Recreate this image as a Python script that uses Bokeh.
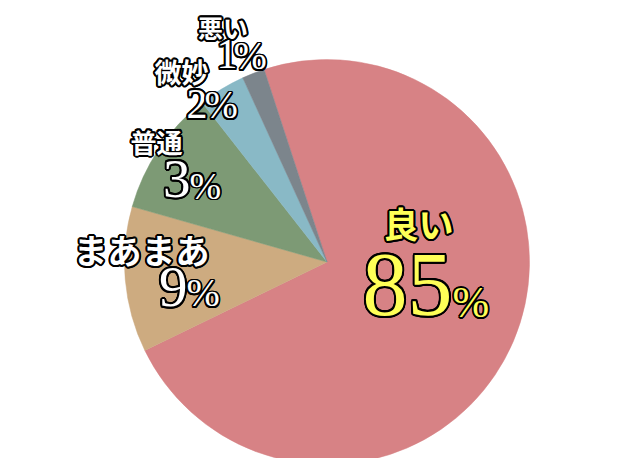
import numpy as np
from bokeh.plotting import figure
from bokeh.models import ColumnDataSource, Range1d
from bokeh.core.properties import value
from bokeh.embed import file_html
from bokeh.resources import INLINE

# ---- data ----
categories = ["良い", "まあまあ", "普通", "微妙", "悪い"]
shares = [72.8, 11.6, 10.0, 3.75, 1.8]          # visual slice sizes (percent of circle)
pct_labels = ["85", "9", "3", "2", "1"]          # printed percentages
colors = ["#d78285", "#cdab80", "#7d9a75", "#89b9c6", "#7c858c"]

# ---- layout ----
W, H = 624, 458
def X(px):
    return px + 8
def Y(py):
    return 466 - py

cx, cy, r = X(326.5), Y(261.5), 202.5
start = np.deg2rad(108.1)

p = figure(width=W, height=H, output_backend="svg", toolbar_location=None,
           x_range=Range1d(8, 632), y_range=Range1d(8, 466), min_border=0)
p.axis.visible = False
p.grid.visible = False
p.outline_line_color = None
p.background_fill_color = "white"

frac = np.array(shares) / np.sum(shares)
cum = np.cumsum(frac)
prev = np.concatenate([[0], cum[:-1]])
src = ColumnDataSource(dict(
    x=[cx] * len(shares), y=[cy] * len(shares),
    a0=start - cum * 2 * np.pi, a1=start - prev * 2 * np.pi,
    color=colors))
p.wedge(x="x", y="y", radius=r, start_angle="a0", end_angle="a1",
        fill_color="color", line_color="color", line_width=0.5, source=src)

yellow = "#ffff57"
fills = [yellow, "white", "white", "white", "white"]

# label placement (page px); numbers: (right edge, baseline)
cjk_xy = [(418, 222), (141, 249), (156, 140.5), (181, 71), (222.5, 26.5)]
cjk_px = [35, 34, 26, 27, 25]
num_xy = [(452, 315), (187, 306), (190, 197), (207, 118), (237, 68)]
num_px = [90, 57, 55, 42, 42]
pct_xy = [(452, 317), (186, 306), (189, 198), (204, 118), (233, 69)]
pct_px = [44, 40, 38, 40, 40]
BASE = 0.34  # empirical baseline correction (em)

def outlined(xy, texts, px, font, align, baseline, style, w=2.0, corr=0.0):
    s = ColumnDataSource(dict(x=[X(a) for a, b in xy],
                              y=[Y(b - corr * f) for (a, b), f in zip(xy, px)],
                              text=texts, size=[f"{f}px" for f in px], fill=fills))
    for k in range(16):
        t = 2 * np.pi * k / 16
        p.text(x="x", y="y", text="text", source=s, text_font=value(font),
               text_font_size="size", text_align=align, text_baseline=baseline,
               text_font_style=style, text_color="black",
               x_offset=w * np.cos(t), y_offset=w * np.sin(t))
    p.text(x="x", y="y", text="text", source=s, text_font=value(font),
           text_font_size="size", text_align=align, text_baseline=baseline,
           text_font_style=style, text_color="fill")

outlined(cjk_xy, categories, cjk_px, "Noto Sans CJK JP", "center", "middle", "bold", 2.0)
outlined(num_xy, pct_labels, num_px, "Liberation Serif", "right", "alphabetic", "normal", 2.0, BASE)
outlined(pct_xy, ["%"] * 5, pct_px, "Liberation Serif", "left", "alphabetic", "normal", 1.6, BASE)

open("out.html", "w").write(file_html(p, INLINE))
